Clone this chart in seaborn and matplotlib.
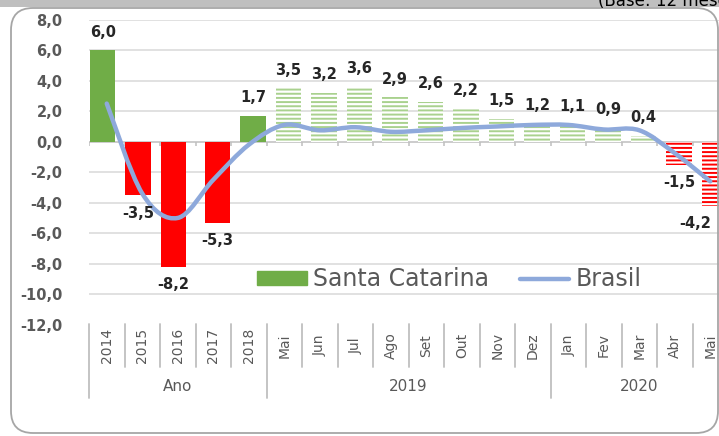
import numpy as np
import pandas as pd
import seaborn as sns
import matplotlib
matplotlib.use("Agg")
import matplotlib.pyplot as plt
from matplotlib.path import Path
from matplotlib.patches import PathPatch, FancyBboxPatch, Rectangle, Patch
from matplotlib.lines import Line2D
from matplotlib.transforms import IdentityTransform

# Data
periods = ["2014", "2015", "2016", "2017", "2018",
           "Mai", "Jun", "Jul", "Ago", "Set", "Out", "Nov", "Dez",
           "Jan", "Fev", "Mar", "Abr", "Mai"]
groups = ["Ano"] * 5 + ["2019"] * 8 + ["2020"] * 5
santa_catarina = [6.0, -3.5, -8.2, -5.3, 1.7,
                  3.5, 3.2, 3.6, 2.9, 2.6, 2.2, 1.5, 1.2,
                  1.1, 0.9, 0.4, -1.5, -4.2]
brasil = [2.5, -3.4, -5.0, -2.5, -0.2,
          1.1, 0.75, 0.95, 0.65, 0.75, 0.9, 1.0, 1.1,
          1.1, 0.8, 0.75, -0.75, -2.6]
y_ticks = [8, 6, 4, 2, 0, -2, -4, -6, -8, -10, -12]

# Style
GREEN = "#70AD47"
LIGHT_GREEN = "#A9D18E"
RED = "#FF0000"
BLUE = "#8EA9DB"
GRID = "#D9D9D9"
TXT = "#595959"

sns.set_theme(style="white")
plt.rcParams["font.family"] = ["DejaVu Sans"]
plt.rcParams["hatch.linewidth"] = 1.4

df = pd.DataFrame({
    "key": [f"{g}-{p}" for g, p in zip(groups, periods)],
    "valor": santa_catarina,
})

fig = plt.figure(figsize=(7.19, 4.36), dpi=100)
ax = fig.add_axes([89 / 719, 111.3 / 436, 639 / 719, 305 / 436])

sns.barplot(data=df, x="key", y="valor", ax=ax, color=GREEN, saturation=1,
            errorbar=None, zorder=2)

n = len(periods)
width = 0.72
for i, bar in enumerate(ax.patches[:n]):
    off = -0.115 if i < 3 else 0.115
    bar.set_width(width)
    bar.set_x(i + off - width / 2)
    v = santa_catarina[i]
    yearly = groups[i] == "Ano"
    if yearly:
        col = GREEN if v >= 0 else RED
        bar.set_facecolor(col)
        bar.set_edgecolor(col)
        bar.set_linewidth(0)
    else:
        col = LIGHT_GREEN if v >= 0 else RED
        bar.set_facecolor("white")
        bar.set_edgecolor(col)
        bar.set_hatch("----")
        bar.set_linewidth(0)
    # data labels
    xo = -14 if i == n - 1 else 0
    ax.annotate(f"{v:.1f}".replace(".", ","), (i + off, v),
                xytext=(xo, 13 if v >= 0 else -13), textcoords="offset points",
                ha="center", va="center", fontsize=10.5, fontweight="bold",
                color="#262626", zorder=5)

# smooth Brasil line (Bezier through the points, like Excel's smoothing)
pts = np.column_stack([np.arange(n), brasil])
ext = np.vstack([pts[0], pts, pts[-1]])
verts = [pts[0]]
codes = [Path.MOVETO]
for i in range(n - 1):
    p0, p1, p2, p3 = ext[i], ext[i + 1], ext[i + 2], ext[i + 3]
    verts += [p1 + (p2 - p0) / 6, p2 - (p3 - p1) / 6, p2]
    codes += [Path.CURVE4] * 3
ax.add_patch(PathPatch(Path(verts, codes), facecolor="none", edgecolor=BLUE,
                       lw=3.2, capstyle="round", zorder=4))

ax.set_xlim(-0.5, n - 0.5)
ax.set_ylim(-12, 8)
ax.set_yticks(y_ticks)
ax.set_yticklabels([f"{t:.1f}".replace(".", ",") for t in y_ticks],
                   fontsize=10.5, fontweight="bold", color=TXT)
ax.tick_params(axis="y", length=0, pad=19)
ax.set_xticks([])
ax.set_xlabel("")
ax.set_ylabel("")
ax.grid(False)
for s in ax.spines.values():
    s.set_visible(False)
for t in y_ticks[:-1]:
    ax.axhline(t, color="#BFBFBF" if t == 0 else GRID, lw=1.1, zorder=1)

# tick marks on zero line
bounds = np.arange(n + 1) - 0.5
ax.vlines(bounds, -0.27, 0, color="#BFBFBF", lw=1.1, zorder=1)

# category axis below the plot
xt = ax.get_xaxis_transform()
for i, b in enumerate(bounds):
    is_group = i == 0 or i == n or groups[i - 1] != groups[i]
    ax.plot([b, b], [0.003, -0.24 if is_group else -0.139], transform=xt,
            color="#BFBFBF", lw=1.3, clip_on=False)
for i, p in enumerate(periods):
    ax.text(i, -0.068, p, transform=xt, rotation=90, ha="center", va="center",
            fontsize=10, color=TXT,
            family=["Liberation Sans Narrow", "DejaVu Sans"])
for g in ["Ano", "2019", "2020"]:
    idx = [i for i, gg in enumerate(groups) if gg == g]
    ax.text(np.mean(idx), -0.204, g, transform=xt, ha="center", va="center",
            fontsize=11, color=TXT)

# legend
handles = [Patch(facecolor=GREEN, edgecolor=GREEN, label="Santa Catarina"),
           Line2D([0], [0], color=BLUE, lw=3.2, label="Brasil")]
fig.legend(handles=handles, loc="center left",
           bbox_to_anchor=(257 / 719, 1 - 279.5 / 436), bbox_transform=fig.transFigure,
           ncol=2, frameon=False, fontsize=17, labelcolor=TXT,
           handlelength=2.1, handleheight=0.55, handletextpad=0.27,
           columnspacing=1.3, borderpad=0, borderaxespad=0)

# chart frame and top strip
fig.patches.append(FancyBboxPatch((11, 3), 707, 425,
                                  boxstyle="round,pad=0,rounding_size=22",
                                  transform=IdentityTransform(), facecolor="none",
                                  edgecolor="#A6A6A6", lw=1.3, zorder=6))
fig.patches.append(Rectangle((0, 1 - 7 / 436), 1, 7 / 436, transform=fig.transFigure,
                             facecolor="#BFBFBF", edgecolor="none", zorder=7))
fig.text(598 / 719, 1 - 6 / 436, "(Base: 12 meses)", fontsize=12, color="black",
         va="baseline", ha="left", zorder=8)

fig.savefig("out.png", dpi=100)
